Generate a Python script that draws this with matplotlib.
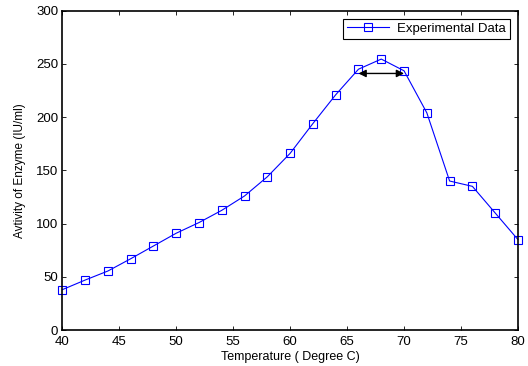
import matplotlib
matplotlib.use("Agg")
import matplotlib.pyplot as plt

plt.rcParams["font.family"] = ["Liberation Sans", "DejaVu Sans"]

# Data
temperature = [40, 42, 44, 46, 48, 50, 52, 54, 56, 58, 60, 62, 64, 66, 68, 70, 72, 74, 76, 78, 80]
activity = [38, 47, 55.5, 67, 79, 91, 101, 112.5, 126, 144, 166, 194, 221, 245, 254.5, 243.5, 204, 140, 135, 110, 85]
x_ticks = [40, 45, 50, 55, 60, 65, 70, 75, 80]
y_ticks = [0, 50, 100, 150, 200, 250, 300]
arrow_start = 66
arrow_end = 70
arrow_level = 241

fig = plt.figure(figsize=(5.28, 3.66), dpi=100)
ax = fig.add_axes([0.118, 0.098, 0.863, 0.873])

ax.plot(temperature, activity, color="#0000ff", linewidth=0.8, marker="s",
        markersize=6, markerfacecolor="none", markeredgecolor="#0000ff",
        markeredgewidth=0.8, label="Experimental Data", clip_on=False)

ax.annotate("", xy=(arrow_end, arrow_level), xytext=(arrow_start, arrow_level),
            arrowprops=dict(arrowstyle="<|-|>", color="black", lw=1,
                            mutation_scale=11, shrinkA=0, shrinkB=0))

ax.set_xlim(40, 80)
ax.set_ylim(0, 300)
ax.set_xticks(x_ticks)
ax.set_yticks(y_ticks)
ax.tick_params(direction="in", top=True, right=True, labelsize=9.5, length=3, width=0.6, pad=3)
ax.tick_params(axis="x", pad=4.5)
for s in ax.spines.values():
    s.set_linewidth(1.2)

ax.set_xlabel("Temperature ( Degree C)", fontsize=9, labelpad=2)
ax.set_ylabel("Avtivity of Enzyme (IU/ml)", fontsize=8.5, labelpad=7)

leg = ax.legend(loc="upper right", fontsize=9.5, fancybox=False, framealpha=1,
                edgecolor="black", borderaxespad=0.6, handlelength=3.2,
                borderpad=0.3, handletextpad=0.6)
leg.get_frame().set_linewidth(0.8)

fig.savefig("out.png", dpi=100)
